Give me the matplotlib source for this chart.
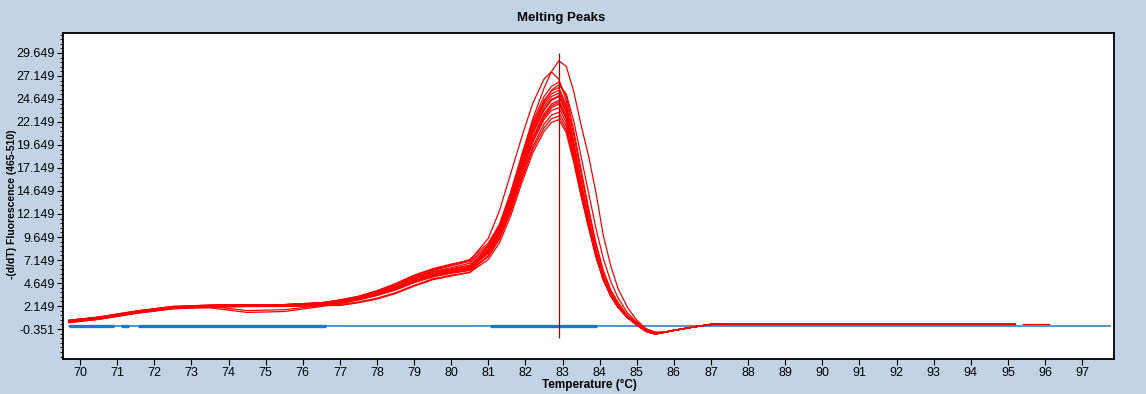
import matplotlib
matplotlib.use("Agg")
import matplotlib.pyplot as plt
from matplotlib.ticker import FixedLocator

# temperature grid shared by every melting curve (deg C)
temps = [69.7, 70.5, 71.5, 72.5, 73.5, 74.5, 75.5, 76.5, 77.0, 77.5,
         78.0, 78.5, 79.0, 79.5, 80.0, 80.5, 81.0, 81.3, 81.6, 81.9,
         82.2, 82.5, 82.7, 82.9, 83.1, 83.3, 83.5, 83.7, 83.9, 84.1,
         84.3, 84.5, 84.75, 85.0, 85.25, 85.5, 85.75, 86.0, 86.5, 87.0, 95.2]

# -(d/dT) fluorescence per well
well_a = [0.6, 0.95, 1.6, 2.1, 2.25, 2.3, 2.3, 2.5, 2.8, 3.2, 3.8, 4.5, 5.4, 6.1, 6.6, 7.2,
          9.0, 11.0, 14.2, 18.5, 22.5, 25.8, 27.6, 28.8, 28.2, 25.5, 21.8, 18.5, 14.5, 9.8,
          6.5, 4.0, 2.0, 0.6, -0.3, -0.7, -0.7, -0.5, -0.15, 0.15, 0.15]
well_b = [0.5, 0.85, 1.5, 2.0, 2.2, 2.25, 2.3, 2.5, 2.8, 3.2, 3.8, 4.6, 5.5, 6.2, 6.7, 7.1,
          9.5, 12.5, 16.5, 20.5, 24.2, 26.8, 27.6, 26.8, 24.5, 20.8, 16.5, 12.5, 8.8, 5.8,
          3.8, 2.4, 1.1, 0.3, -0.4, -0.8, -0.7, -0.5, -0.15, 0.15, 0.15]
well_c = [0.55, 0.9, 1.55, 2.05, 2.2, 2.25, 2.3, 2.45, 2.7, 3.1, 3.7, 4.4, 5.2, 5.9, 6.3, 6.8,
          8.8, 11.0, 14.5, 18.5, 22.2, 24.9, 26.0, 26.5, 25.0, 21.3, 17.0, 12.8, 9.0, 6.0,
          3.9, 2.5, 1.1, 0.3, -0.5, -0.8, -0.7, -0.5, -0.15, 0.15, 0.15]
well_d = [0.45, 0.8, 1.45, 1.95, 2.1, 2.2, 2.2, 2.4, 2.6, 3.0, 3.5, 4.2, 5.0, 5.7, 6.1, 6.5,
          8.6, 10.8, 14.2, 18.3, 21.9, 24.5, 25.5, 25.9, 24.0, 20.0, 15.7, 11.8, 8.2, 5.4,
          3.5, 2.2, 1.0, 0.2, -0.5, -0.8, -0.7, -0.5, -0.15, 0.15, 0.15]
well_e = [0.6, 0.9, 1.5, 2.0, 2.15, 2.25, 2.25, 2.45, 2.7, 3.1, 3.6, 4.3, 5.1, 5.8, 6.2, 6.6,
          8.4, 10.5, 13.8, 17.9, 21.5, 24.1, 25.2, 25.6, 23.8, 19.9, 15.6, 11.7, 8.1, 5.4,
          3.5, 2.2, 1.0, 0.2, -0.5, -0.8, -0.7, -0.5, -0.15, 0.15, 0.15]
well_f = [0.4, 0.75, 1.4, 1.9, 2.1, 2.2, 2.2, 2.35, 2.6, 2.95, 3.45, 4.1, 4.9, 5.5, 5.9, 6.3,
          8.2, 10.3, 13.6, 17.6, 21.2, 23.8, 24.9, 25.3, 23.5, 19.6, 15.3, 11.4, 7.9, 5.2,
          3.4, 2.1, 0.9, 0.1, -0.6, -0.8, -0.7, -0.5, -0.15, 0.15, 0.15]
well_g = [0.5, 0.85, 1.5, 2.0, 2.15, 2.2, 2.2, 2.4, 2.6, 3.0, 3.5, 4.1, 4.9, 5.6, 6.0, 6.4,
          8.3, 10.3, 13.5, 17.5, 21.0, 23.5, 24.6, 25.0, 23.3, 19.5, 15.3, 11.5, 8.0, 5.3,
          3.5, 2.2, 1.0, 0.2, -0.5, -0.8, -0.7, -0.5, -0.15, 0.15, 0.15]
well_h = [0.5, 0.85, 1.5, 2.0, 1.95, 1.45, 1.55, 2.1, 2.4, 2.8, 3.3, 3.9, 4.7, 5.4, 5.8, 6.2,
          8.1, 10.2, 13.4, 17.4, 20.9, 23.4, 24.5, 24.9, 23.2, 19.4, 15.2, 11.4, 7.9, 5.2,
          3.4, 2.1, 1.0, 0.2, -0.5, -0.8, -0.7, -0.5, -0.15, 0.15, 0.15]
well_i = [0.55, 0.9, 1.55, 2.05, 2.1, 1.65, 1.75, 2.2, 2.5, 2.9, 3.4, 4.0, 4.8, 5.5, 5.9, 6.3,
          8.0, 10.0, 13.1, 17.0, 20.5, 23.0, 24.1, 24.5, 22.8, 19.1, 15.0, 11.2, 7.8, 5.1,
          3.3, 2.1, 0.9, 0.1, -0.6, -0.9, -0.7, -0.5, -0.15, 0.15, 0.15]
well_j = [0.45, 0.8, 1.45, 1.95, 2.15, 2.2, 2.25, 2.4, 2.55, 2.9, 3.4, 4.0, 4.8, 5.4, 5.8, 6.2,
          7.9, 9.9, 13.0, 16.9, 20.3, 22.8, 23.9, 24.3, 22.6, 18.9, 14.8, 11.1, 7.7, 5.1,
          3.3, 2.0, 0.9, 0.1, -0.6, -0.9, -0.7, -0.5, -0.15, 0.15, 0.15]
well_k = [0.35, 0.7, 1.35, 1.85, 2.05, 2.1, 2.1, 2.2, 2.2, 2.5, 2.9, 3.5, 4.3, 5.0, 5.4, 5.8,
          7.6, 9.6, 12.7, 16.6, 20.0, 22.6, 23.7, 24.1, 22.5, 18.9, 14.8, 11.1, 7.7, 5.1,
          3.3, 2.0, 0.9, 0.1, -0.6, -0.9, -0.7, -0.5, -0.15, 0.15, 0.15]
well_l = [0.5, 0.85, 1.5, 2.0, 2.2, 2.25, 2.25, 2.4, 2.6, 2.95, 3.45, 4.1, 4.9, 5.5, 5.9, 6.2,
          7.9, 9.8, 12.9, 16.7, 20.0, 22.4, 23.4, 23.7, 22.1, 18.6, 14.6, 11.0, 7.6, 5.0,
          3.3, 2.0, 0.9, 0.1, -0.6, -0.9, -0.7, -0.5, -0.15, 0.15, 0.15]
well_m = [0.4, 0.75, 1.4, 1.9, 2.1, 2.15, 2.15, 2.3, 2.5, 2.85, 3.3, 3.9, 4.7, 5.3, 5.7, 6.0,
          7.6, 9.5, 12.5, 16.2, 19.5, 21.9, 22.9, 23.2, 21.7, 18.3, 14.4, 10.9, 7.6, 5.0,
          3.3, 2.0, 0.9, 0.1, -0.6, -0.9, -0.7, -0.5, -0.15, 0.15, 0.15]
well_n = [0.55, 0.9, 1.5, 2.0, 2.15, 2.2, 2.2, 2.35, 2.55, 2.9, 3.4, 4.0, 4.8, 5.4, 5.8, 6.1,
          7.5, 9.4, 12.3, 15.9, 19.2, 21.5, 22.5, 22.8, 21.3, 18.0, 14.2, 10.8, 7.5, 5.0,
          3.2, 2.0, 0.9, 0.1, -0.6, -0.9, -0.7, -0.5, -0.15, 0.15, 0.15]
well_o = [0.35, 0.7, 1.35, 1.85, 2.0, 2.1, 2.1, 2.2, 2.3, 2.6, 3.0, 3.6, 4.4, 5.1, 5.5, 5.8,
          7.2, 9.0, 11.9, 15.5, 18.8, 21.1, 22.1, 22.4, 21.0, 17.8, 14.1, 10.7, 7.5, 5.0,
          3.2, 2.0, 0.9, 0.1, -0.6, -0.9, -0.7, -0.5, -0.15, 0.15, 0.15]
well_p = [0.6, 0.95, 1.6, 2.1, 2.25, 2.3, 2.3, 2.5, 2.75, 3.15, 3.7, 4.4, 5.3, 6.0, 6.5, 7.0,
          8.7, 10.7, 13.9, 17.9, 21.6, 24.3, 25.6, 26.2, 25.2, 22.3, 18.4, 14.5, 10.6, 7.3,
          4.8, 3.0, 1.4, 0.4, -0.4, -0.7, -0.7, -0.5, -0.15, 0.15, 0.15]
wells = [well_a, well_b, well_c, well_d, well_e, well_f, well_g, well_h,
         well_i, well_j, well_k, well_l, well_m, well_n, well_o, well_p]

# short red tail segment after the gap
tail_temps = [95.4, 96.1]
tail_vals = [0.15, 0.15]

# negative controls (flat blue baseline) and where several overlap
blue_temps = [69.7, 97.75]
blue_vals = [0.0, 0.0]
blue_thick = [(69.7, 70.92), (71.1, 71.33), (71.56, 76.63), (81.05, 83.94)]

peak_temp = 82.9
peak_line = (-1.3, 29.7)

y_ticks = [-0.351 + 2.5 * k for k in range(13)]
x_ticks = list(range(70, 98))

bg = "#c1d3e4"
plt.rcParams["font.family"] = ["Liberation Sans", "DejaVu Sans"]

fig = plt.figure(figsize=(11.46, 3.94), dpi=100, facecolor=bg)
ax = fig.add_axes([63 / 1146, 1 - 359 / 394, (1114 - 63) / 1146, (359 - 33) / 394])
ax.set_facecolor("white")

for w in wells:
    ax.plot(temps, w, color="#ff0000", linewidth=0.9, zorder=3)
ax.plot(tail_temps, tail_vals, color="#ff0000", linewidth=0.9, zorder=3)

ax.plot(blue_temps, blue_vals, color="#1f77c4", linewidth=1.1, zorder=2)
for t0, t1 in blue_thick:
    ax.plot([t0, t1], [0.0, 0.0], color="#1f77c4", linewidth=2.4,
            solid_capstyle="butt", zorder=2)

ax.vlines(peak_temp, peak_line[0], peak_line[1], color="#b00000", linewidth=0.9, zorder=4)

ax.set_xlim(69.54, 97.86)
ax.set_ylim(-3.61, 31.82)

ax.xaxis.set_major_locator(FixedLocator(x_ticks))
ax.set_xticklabels([str(t) for t in x_ticks])
ax.yaxis.set_major_locator(FixedLocator(y_ticks))
ax.set_yticklabels([f"{v:.3f}" for v in y_ticks])
ax.yaxis.set_minor_locator(FixedLocator([-0.351 + 0.5 * k for k in range(-6, 65)]))

ax.tick_params(axis="both", which="major", direction="out", length=4, width=0.8,
               labelsize=9, colors="black", pad=2)
ax.tick_params(axis="y", which="minor", direction="out", length=2, width=0.6)
ax.tick_params(top=False, right=False)

for s in ax.spines.values():
    s.set_linewidth(1.3)
    s.set_color("black")

fig.text(561 / 1146, 1 - 18 / 394, "Melting Peaks", ha="center", va="center",
         fontsize=9.5, fontweight="bold")
fig.text(589 / 1146, 1 - 385 / 394, "Temperature (°C)", ha="center", va="center",
         fontsize=8.5, fontweight="bold")
fig.text(12 / 1146, 1 - 204 / 394, "-(d/dT) Fluorescence (465-510)", ha="center",
         va="center", rotation=90, fontsize=7.5, fontweight="bold")

fig.savefig("out.png", dpi=100, facecolor=bg)
